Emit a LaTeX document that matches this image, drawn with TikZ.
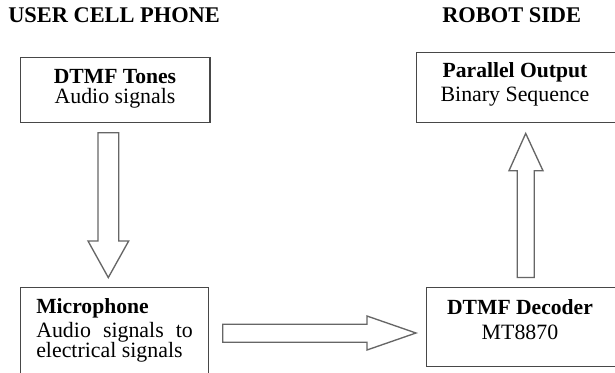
\documentclass[tikz,border=0pt]{standalone}
\usepackage{fontspec}
\setmainfont{Liberation Serif}
\usetikzlibrary{calc}
\begin{document}
\begin{tikzpicture}[x=0.75pt,y=-0.75pt,
  box/.style={draw=black!72,line width=1.1pt,rectangle,inner sep=0pt},
  blk/.style={draw=black!60,line width=1pt,fill=white,line join=miter},
  txt/.style={font=\fontsize{16.4}{19}\selectfont,inner sep=0pt,anchor=center},
  btxt/.style={txt,font=\fontsize{16.2}{19}\selectfont\bfseries},
  ttl/.style={font=\fontsize{16.8}{20}\selectfont\bfseries,inner sep=0pt}]
\useasboundingbox (0,0) rectangle (615,372);
\clip (0,0) rectangle (615,372);
\fill[white] (0,0) rectangle (615,372);
% titles
\node[ttl,anchor=west] (t1) at (8,15) {USER CELL PHONE};
\node[ttl] (t2) at (511.7,15) {ROBOT SIDE};
% boxes
\node[box,minimum width=189.3*0.75pt,minimum height=65*0.75pt] (tones) at (115.35,90.2) {};
\node[box,minimum width=188*0.75pt,minimum height=100*0.75pt] (mic) at (114.7,337.7) {};
\node[box,minimum width=210*0.75pt,minimum height=70*0.75pt] (par) at (521.7,87.7) {};
\node[box,minimum width=200*0.75pt,minimum height=79*0.75pt] (dec) at (526.7,327.2) {};
% texts
\node[btxt] (tones1) at (115,77) {DTMF Tones};
\node[txt] (tones2) at (115,98.5) {Audio signals};
\node[btxt] (par1) at (515,72) {Parallel Output};
\node[txt] (par2) at (515,97) {Binary Sequence};
\node[btxt] (dec1) at (520,307) {DTMF Decoder};
\node[txt] (dec2) at (520,332) {MT8870};
\node[btxt,anchor=west] (mic1) at (36,308) {Microphone};
\node[txt,anchor=west] (mic2) at (36,332) {\makebox[117.5pt][s]{Audio signals to}};
\node[txt,anchor=west] (mic3) at (36,352.5) {electrical signals};
% block arrows
\draw[blk] let \p1=(tones.south), \p2=(mic.north) in
  ($(\p1)+(-17.35,9.3)$) -- ($(\p1)+(3.35,9.3)$) -- ($(\p2)+(4,-46)$) -- ($(\p2)+(14,-46)$)
  -- ($(\p2)+(-6.4,-9.4)$) -- ($(\p2)+(-26.7,-46)$) -- ($(\p2)+(-16.7,-46)$) -- cycle;
\draw[blk] let \p1=(mic.east), \p2=(dec.west) in
  ($(\p1)+(13.3,-13.4)$) -- ($(\p2)+(-59,-2.9)$) -- ($(\p2)+(-59,-11.2)$)
  -- ($(\p2)+(-10,5.8)$) -- ($(\p2)+(-59,22.8)$) -- ($(\p2)+(-59,15.1)$) -- ($(\p1)+(13.3,4.6)$) -- cycle;
\draw[blk] let \p1=(dec.north), \p2=(par.south) in
  ($(\p1)+(-9.4,-9.4)$) -- ($(\p1)+(7.6,-9.4)$) -- ($(\p2)+(12.6,47.3)$) -- ($(\p2)+(21.3,47.3)$)
  -- ($(\p2)+(4,10)$) -- ($(\p2)+(-12.7,47.3)$) -- ($(\p2)+(-4.4,47.3)$) -- cycle;
\end{tikzpicture}
\end{document}
